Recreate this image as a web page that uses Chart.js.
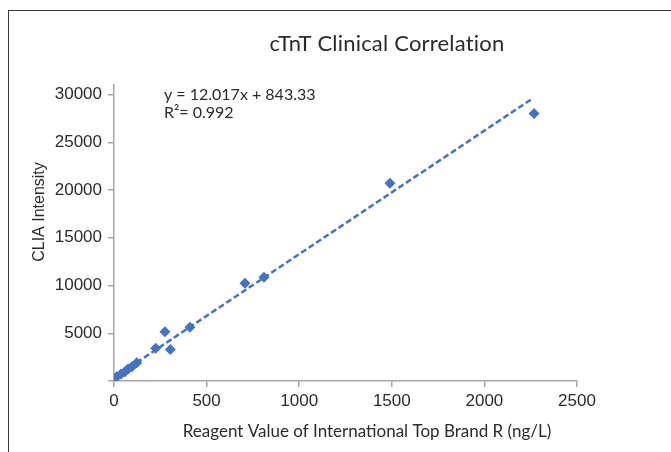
<!DOCTYPE html>
<html>
<head>
<meta charset="utf-8">
<script src="https://cdn.jsdelivr.net/npm/chart.js@4.4.1/dist/chart.umd.min.js"></script>
<style>
  html, body { margin: 0; padding: 0; background: #fff; overflow: hidden; }
  #marco {
    position: absolute; left: 8px; top: 10px; width: 700px; height: 460px;
    border-left: 1.5px solid #3a3a3a; border-top: 1.5px solid #3a3a3a;
  }
  #lienzo { position: absolute; left: 0; top: 0; }
</style>
</head>
<body>
<div id="marco"></div>
<canvas id="lienzo" width="671" height="452"></canvas>
<script>
// Datos
const reactivoR = [2, 15, 38, 59, 76, 97, 123, 225, 304, 275, 410, 707, 810, 1490, 2268];
const intensidadCLIA = [280, 450, 730, 970, 1250, 1500, 1910, 3420, 3310, 5150, 5640, 10240, 10870, 20700, 28010];

// Línea de tendencia (extremos tal como aparecen en la imagen)
const tendenciaX = [0, 2265];
const tendenciaY = [350, 29650];

const ticksX = [0, 500, 1000, 1500, 2000, 2500];
const ticksY = [0, 5000, 10000, 15000, 20000, 25000, 30000];

const titulo = 'cTnT Clinical Correlation';
const ecuacion = 'y = 12.017x + 843.33';
const r2 = 'R\u00B2= 0.992';
const tituloX = 'Reagent Value of International Top Brand R (ng/L)';
const tituloY = 'CLIA Intensity';

const azul = '#4472C4';
const gris = '#a6a6a6';
const fuenteTexto = 'Lato, "Open Sans", sans-serif';
const fuenteEjes = '"Liberation Sans", Arial, sans-serif';

const puntos = reactivoR.map((x, i) => ({ x: x, y: intensidadCLIA[i] }));
const tendencia = tendenciaX.map((x, i) => ({ x: x, y: tendenciaY[i] }));

// Textos fuera de los ejes
const textos = {
    id: 'textos',
    afterDraw(chart) {
        const c = chart.ctx;
        c.save();
        c.fillStyle = '#2b2b2b';
        c.textBaseline = 'middle';

        // letterSpacing evita la ligadura "ti" de Lato
        c.font = '22px ' + fuenteTexto;
        c.letterSpacing = '0.2px';
        c.textAlign = 'center';
        c.fillText(titulo, 387, 44);
        c.letterSpacing = '0px';

        c.font = '16px ' + fuenteTexto;
        c.textAlign = 'left';
        c.fillText(ecuacion, 164, 95);
        c.fillText(r2, 164, 113);

        c.font = '17px ' + fuenteTexto;
        c.textAlign = 'center';
        c.fillText(tituloX, 367, 432);

        c.font = '16px ' + fuenteEjes;
        c.translate(40, 212);
        c.rotate(-Math.PI / 2);
        c.fillText(tituloY, 0, 0);
        c.restore();
    }
};

new Chart(document.getElementById('lienzo'), {
    type: 'scatter',
    data: {
        datasets: [
            {
                label: 'cTnT',
                data: puntos,
                pointStyle: 'rectRot',
                pointRadius: 5.5,
                backgroundColor: azul,
                borderColor: azul,
                borderWidth: 0
            },
            {
                label: 'Tendencia',
                type: 'line',
                data: tendencia,
                borderColor: azul,
                borderWidth: 2.5,
                borderDash: [6, 3],
                pointRadius: 0,
                fill: false
            }
        ]
    },
    options: {
        responsive: false,
        animation: false,
        layout: { padding: { left: 0, right: 94, top: 85, bottom: 0 } },
        plugins: {
            legend: { display: false },
            title: { display: false },
            tooltip: { enabled: false }
        },
        scales: {
            x: {
                type: 'linear',
                min: 0,
                max: 2500,
                afterFit: (scale) => { scale.height = 71; },
                afterBuildTicks: (scale) => { scale.ticks = ticksX.map(v => ({ value: v })); },
                grid: { drawOnChartArea: false, drawTicks: true, tickLength: 6, color: gris, lineWidth: 1.5 },
                border: { display: true, color: gris, width: 1.5 },
                ticks: {
                    color: '#2b2b2b',
                    padding: 4,
                    font: { family: fuenteEjes, size: 17 },
                    callback: (v) => String(v)
                }
            },
            y: {
                min: 0,
                max: 31000,
                afterFit: (scale) => { scale.width = 114; },
                afterBuildTicks: (scale) => { scale.ticks = ticksY.map(v => ({ value: v })); },
                grid: { drawOnChartArea: false, drawTicks: true, tickLength: 6, color: gris, lineWidth: 1.5 },
                border: { display: true, color: gris, width: 1.5 },
                ticks: {
                    color: '#2b2b2b',
                    padding: 6,
                    font: { family: fuenteEjes, size: 17 },
                    callback: (v) => v === 0 ? '' : String(v)
                }
            }
        }
    },
    plugins: [textos]
});
</script>
</body>
</html>
